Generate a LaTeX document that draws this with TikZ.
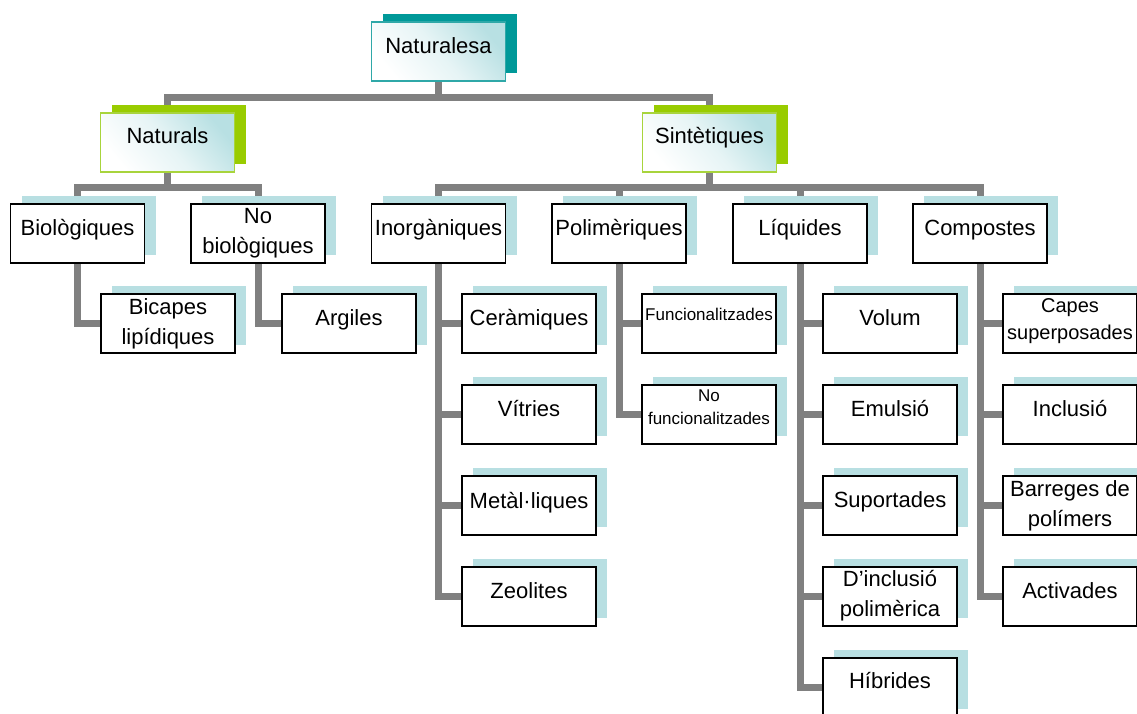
\documentclass[tikz,border=0pt]{standalone}
\usepackage{fontspec}
\setmainfont{Liberation Sans}
\usetikzlibrary{shadows,calc,backgrounds}

\definecolor{linkgray}{HTML}{808080}
\definecolor{leafshade}{HTML}{B8DFE2}
\definecolor{tealdark}{HTML}{009999}
\definecolor{tealline}{HTML}{2FA8A8}
\definecolor{limedark}{HTML}{99CC00}
\definecolor{limeline}{HTML}{A8D43C}
\definecolor{glow}{HTML}{B8E0E3}

\newcommand\fbig{\fontsize{22}{30}\selectfont}
\newcommand\fmid{\fontsize{20}{27}\selectfont}
\newcommand\fsmall{\fontsize{17}{23.5}\selectfont}

% box + text: name, style, centre, baseline offset, font, lines
\newcommand\unit[6]{%
  \node[#2] (#1) at (#3) {};
  \node[anchor=base, inner sep=0pt] (#1-txt) at ($(#1.center)+(0,#4)$)
    {#5\begin{tabular}[t]{@{}c@{}}#6\end{tabular}};
}

\tikzset{
  box/.style={rectangle, minimum width=134pt, minimum height=59pt,
    inner sep=0pt, fill=white, draw=black, line width=1.8pt},
  leafbox/.style={box, drop shadow={shadow xshift=11pt, shadow yshift=8pt,
    fill=leafshade, opacity=1, draw=none}},
  glowfill/.style={top color=glow, bottom color=white,
    middle color=glow!35!white, shading angle=-50},
  rootbox/.style={box, draw=tealline, line width=1.5pt, glowfill,
    drop shadow={shadow xshift=11pt, shadow yshift=8pt,
    fill=tealdark, opacity=1, draw=none}},
  branchbox/.style={box, draw=limeline, line width=1.5pt, glowfill,
    drop shadow={shadow xshift=11pt, shadow yshift=8pt,
    fill=limedark, opacity=1, draw=none}},
  conn/.style={draw=linkgray, line width=7pt},
}

\begin{document}
\begin{tikzpicture}[x=1pt, y=-1pt]
\useasboundingbox (0,0) rectangle (1137,713);
\clip (0,0) rectangle (1137,713);

% top levels
\unit{root}{rootbox}{438.5,51.5}{2}{\fbig}{Naturalesa}
\unit{nat}{branchbox}{167.5,142.5}{0.5}{\fbig}{Naturals}
\unit{sint}{branchbox}{709.5,142.5}{1}{\fbig}{Sintètiques}

% second level
\unit{bio}{leafbox}{77.5,233.5}{1.5}{\fbig}{Biològiques}
\unit{nobio}{leafbox}{258,233.5}{-10}{\fbig}{No\\biològiques}
\unit{inorg}{leafbox}{438.5,233.5}{1.5}{\fbig}{Inorgàniques}
\unit{polim}{leafbox}{619,233.5}{1.5}{\fbig}{Polimèriques}
\unit{liq}{leafbox}{800,233.5}{1.5}{\fbig}{Líquides}
\unit{comp}{leafbox}{980,233.5}{1.5}{\fbig}{Compostes}

% third level
\unit{bicap}{leafbox}{168,323.5}{-9}{\fbig}{Bicapes\\lipídiques}
\unit{argil}{leafbox}{349,323.5}{2}{\fbig}{Argiles}

\unit{ceram}{leafbox}{529,323.5}{2}{\fbig}{Ceràmiques}
\unit{vitr}{leafbox}{529,414.5}{2}{\fbig}{Vítries}
\unit{metal}{leafbox}{529,505.5}{2.5}{\fbig}{Metàl·liques}
\unit{zeol}{leafbox}{529,596.5}{2}{\fbig}{Zeolites}

\unit{func}{leafbox}{709,323.5}{-3}{\fsmall}{Funcionalitzades}
\unit{nofunc}{leafbox}{709,414.5}{-13.5}{\fsmall}{No\\funcionalitzades}

\unit{volum}{leafbox}{890,323.5}{2}{\fbig}{Volum}
\unit{emul}{leafbox}{890,414.5}{2}{\fbig}{Emulsió}
\unit{suport}{leafbox}{890,505.5}{2}{\fbig}{Suportades}
\unit{dincl}{leafbox}{890,596.5}{-10}{\fbig}{D’inclusió\\polimèrica}
\unit{hibr}{leafbox}{890,687.5}{1}{\fbig}{Híbrides}

\unit{capes}{leafbox}{1070,323.5}{-11}{\fmid}{Capes\\superposades}
\unit{incl}{leafbox}{1070,414.5}{2}{\fbig}{Inclusió}
\unit{barr}{leafbox}{1070,505.5}{-9}{\fbig}{Barreges de\\polímers}
\unit{activ}{leafbox}{1070,596.5}{2}{\fbig}{Activades}

% page background and connectors, behind the boxes
\begin{scope}[on background layer]
  \fill[white] (0,0) rectangle (1137,713);

  \draw[conn] (root.south) -- ++(0,15.5) -| (nat.north);
  \draw[conn] (root.south) -- ++(0,15.5) -| (sint.north);

  \foreach \c in {bio,nobio}
    \draw[conn] (nat.south) -- ++(0,15) -| (\c.north);
  \foreach \c in {inorg,polim,liq,comp}
    \draw[conn] (sint.south) -- ++(0,15) -| (\c.north);

  \draw[conn] (bio.south) |- (bicap.west);
  \draw[conn] (nobio.south) |- (argil.west);
  \foreach \c in {ceram,vitr,metal,zeol}
    \draw[conn] (inorg.south) |- (\c.west);
  \foreach \c in {func,nofunc}
    \draw[conn] (polim.south) |- (\c.west);
  \foreach \c in {volum,emul,suport,dincl,hibr}
    \draw[conn] (liq.south) |- (\c.west);
  \foreach \c in {capes,incl,barr,activ}
    \draw[conn] (comp.south) |- (\c.west);
\end{scope}
\end{tikzpicture}
\end{document}
